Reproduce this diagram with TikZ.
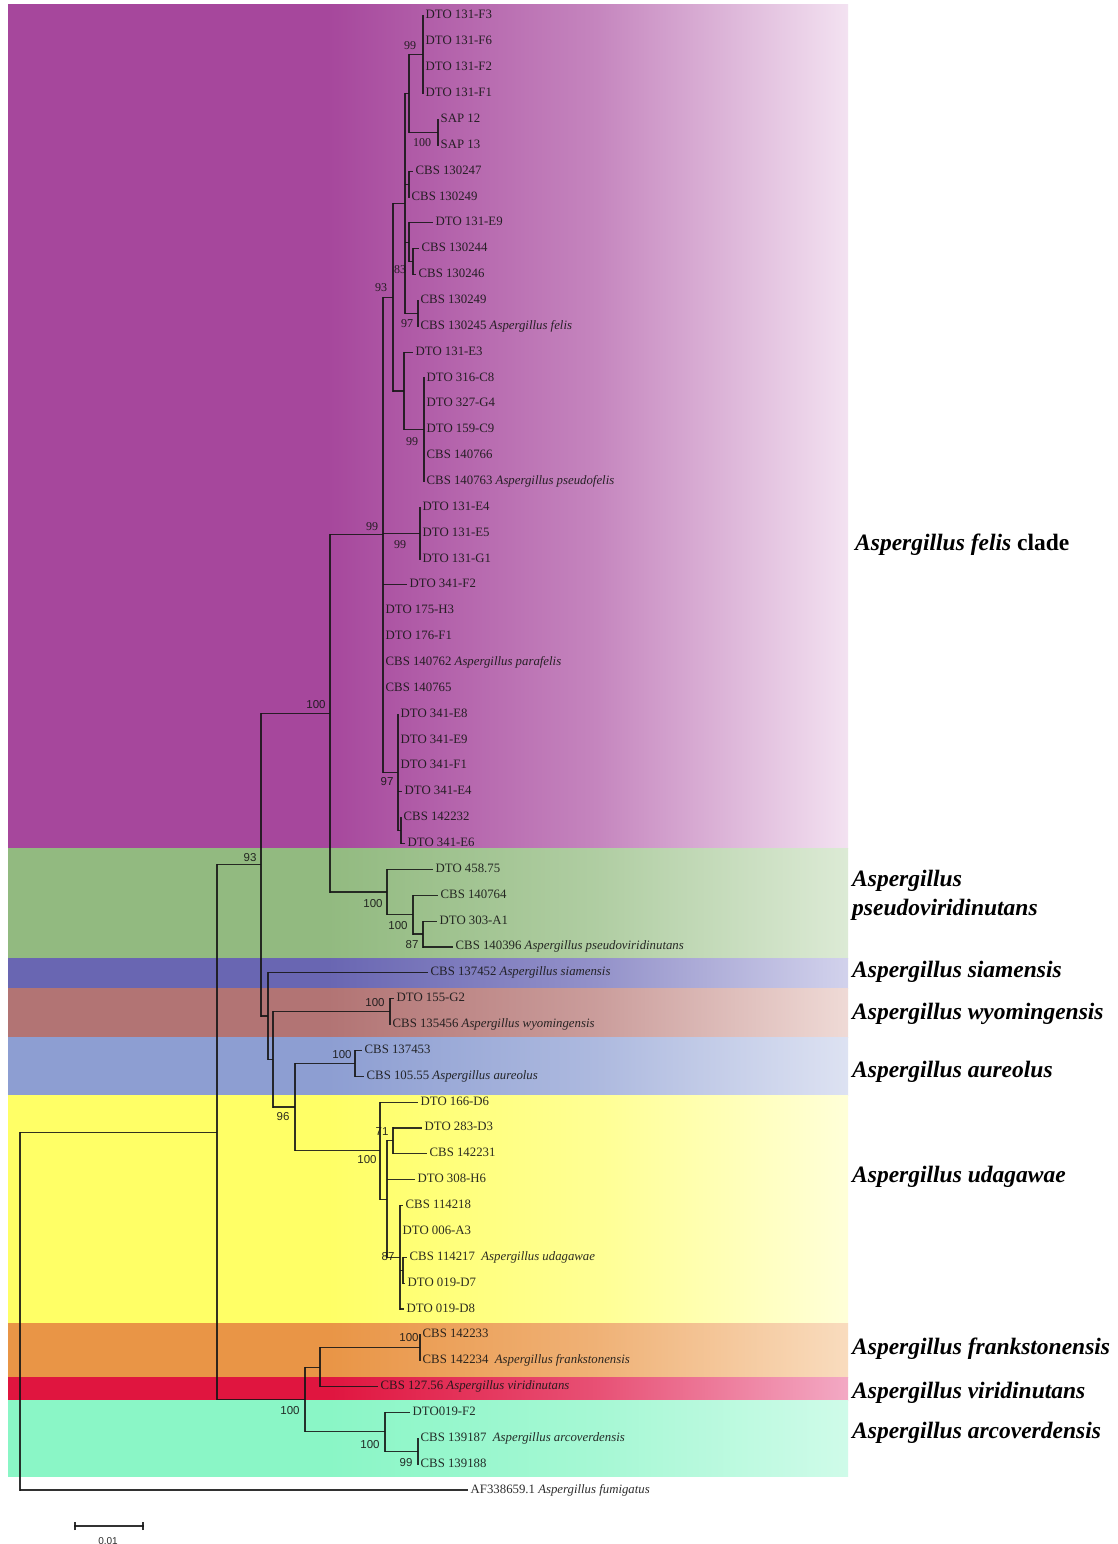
\documentclass[tikz,border=0pt]{standalone}
\usepackage{fontspec}
\setmainfont{Liberation Serif}
\newfontfamily\supsans{Liberation Sans}

% band colours: saturated left edge, pale right edge
\definecolor{felA}{HTML}{A6479C}\definecolor{felB}{HTML}{F3E2F1}
\definecolor{psvA}{HTML}{92BA80}\definecolor{psvB}{HTML}{DCEAD5}
\definecolor{siaA}{HTML}{6966B2}\definecolor{siaB}{HTML}{D2D2EC}
\definecolor{wyoA}{HTML}{B27474}\definecolor{wyoB}{HTML}{EFDAD6}
\definecolor{aurA}{HTML}{8D9ED2}\definecolor{aurB}{HTML}{DDE2F2}
\definecolor{udaA}{HTML}{FFFF66}\definecolor{udaB}{HTML}{FFFFD8}
\definecolor{fraA}{HTML}{E99546}\definecolor{fraB}{HTML}{F9DCBE}
\definecolor{virA}{HTML}{E0153F}\definecolor{virB}{HTML}{F3A9C4}
\definecolor{arcA}{HTML}{8AF6C6}\definecolor{arcB}{HTML}{CFFBE9}
\definecolor{ink}{HTML}{161616}

\tikzset{
  vbranch/.style={draw=ink, draw opacity=0.88, line width=1.1pt, line cap=rect},
  hbranch/.style={draw=ink, draw opacity=0.88, line width=1.1pt, line cap=butt},
  tip/.style={anchor=west, inner xsep=2.5pt, inner ysep=0pt, text=ink, text opacity=0.9,
    text height=8.6pt, text depth=2.6pt, font=\fontsize{12.8}{12.8}\selectfont},
  supS/.style={inner sep=0pt, text=ink, text opacity=0.9, font=\supsans\fontsize{11.5}{11.5}\selectfont},
  supR/.style={inner sep=0pt, text=ink, text opacity=0.9, font=\fontsize{12}{12}\selectfont},
  cladelab/.style={anchor=west, inner sep=0pt, text=black, font=\bfseries\fontsize{23.5}{23.5}\selectfont},
}

% one coloured band: base colour, pale colour, top, bottom.
% The band spans x = 8..848, mapped onto 25bp..75bp of the shading;
% it stays at the base colour up to x = 330 and then fades out.
\newcommand{\cladeband}[4]{%
  \pgfdeclarehorizontalshading{sh#1}{100bp}{color(0bp)=(#1); color(44bp)=(#1);
    color(60bp)=(#2!40!#1); color(75bp)=(#2); color(100bp)=(#2)}%
  \shade[shading=sh#1] (8,#3) rectangle (848,#4);}

% one leaf: name, parent, branch end x, row, text (rows are 25.86 apart)
\newcommand{\leaf}[5]{%
  \node[tip] (#1) at (#3,{16+25.86*#4}) {#5};
  \draw[hbranch] (#2 |- #1.west) -- (#1.west);}

\newcommand{\spn}[1]{\textit{#1}}

\begin{document}
\begin{tikzpicture}[x=1pt, y=-1pt]
\useasboundingbox (0,0) rectangle (1118,1544);
\fill[white] (0,0) rectangle (1118,1544);

% clade bands
\cladeband{felA}{felB}{5}{848}
\cladeband{psvA}{psvB}{848}{958}
\cladeband{siaA}{siaB}{958}{988}
\cladeband{wyoA}{wyoB}{988}{1037}
\cladeband{aurA}{aurB}{1037}{1095}
\cladeband{udaA}{udaB}{1095}{1323}
\cladeband{fraA}{fraB}{1323}{1377}
\cladeband{virA}{virB}{1377}{1400}
\cladeband{arcA}{arcB}{1400}{1476}

% internal nodes
\coordinate (NF) at (423,54.79);
\coordinate (NSAP) at (438,132.37);
\coordinate (NFS) at (409,93.6);
\coordinate (N247) at (409,184.09);
\coordinate (N44) at (413,261.67);
\coordinate (NE9) at (409,242.3);
\coordinate (N97a) at (418,313.39);
\coordinate (N405) at (405,203.5);
\coordinate (N99b) at (424,429.76);
\coordinate (NE3) at (404,391);
\coordinate (N93b) at (393,297.2);
\coordinate (NE4) at (420,533.2);
\coordinate (N42) at (401,830.59);
\coordinate (N97b) at (398,772.4);
\coordinate (F99) at (383,534.8);
\coordinate (NPV3) at (423,934.03);
\coordinate (NPV2) at (413,914.6);
\coordinate (NPV) at (387,892);
\coordinate (N100a) at (330,713.4);
\coordinate (NW) at (390,1011.61);
\coordinate (NA) at (355,1063.33);
\coordinate (N71) at (393,1140.91);
\coordinate (N87s) at (403,1270.21);
\coordinate (N87) at (400,1257.3);
\coordinate (NU2) at (387,1199.1);
\coordinate (NU) at (380,1150.6);
\coordinate (Z) at (295,1107);
\coordinate (Y) at (273,1059.3);
\coordinate (X) at (268,1016);
\coordinate (N93a) at (261,864.7);
\coordinate (NFr) at (420,1347.79);
\coordinate (NFV) at (320,1367.2);
\coordinate (NAr99) at (418,1451.23);
\coordinate (NAr) at (385,1431.8);
\coordinate (NOut) at (305,1399.5);
\coordinate (I) at (217,1132.1);
\coordinate (R) at (20,1311);

% leaves
\leaf{t0}{NF}{423}{0}{DTO 131-F3}
\leaf{t1}{NF}{423}{1}{DTO 131-F6}
\leaf{t2}{NF}{423}{2}{DTO 131-F2}
\leaf{t3}{NF}{423}{3}{DTO 131-F1}
\leaf{t4}{NSAP}{438}{4}{SAP 12}
\leaf{t5}{NSAP}{438}{5}{SAP 13}
\leaf{t6}{N247}{413}{6}{CBS 130247}
\leaf{t7}{N247}{409}{7}{CBS 130249}
\leaf{t8}{NE9}{433}{8}{DTO 131-E9}
\leaf{t9}{N44}{419}{9}{CBS 130244}
\leaf{t10}{N44}{416}{10}{CBS 130246}
\leaf{t11}{N97a}{418}{11}{CBS 130249}
\leaf{t12}{N97a}{418}{12}{CBS 130245 \spn{Aspergillus felis}}
\leaf{t13}{NE3}{413}{13}{DTO 131-E3}
\leaf{t14}{N99b}{424}{14}{DTO 316-C8}
\leaf{t15}{N99b}{424}{15}{DTO 327-G4}
\leaf{t16}{N99b}{424}{16}{DTO 159-C9}
\leaf{t17}{N99b}{424}{17}{CBS 140766}
\leaf{t18}{N99b}{424}{18}{CBS 140763 \spn{Aspergillus pseudofelis}}
\leaf{t19}{NE4}{420}{19}{DTO 131-E4}
\leaf{t20}{NE4}{420}{20}{DTO 131-E5}
\leaf{t21}{NE4}{420}{21}{DTO 131-G1}
\leaf{t22}{F99}{407}{22}{DTO 341-F2}
\leaf{t23}{F99}{383}{23}{DTO 175-H3}
\leaf{t24}{F99}{383}{24}{DTO 176-F1}
\leaf{t25}{F99}{383}{25}{CBS 140762 \spn{Aspergillus parafelis}}
\leaf{t26}{F99}{383}{26}{CBS 140765}
\leaf{t27}{N97b}{398}{27}{DTO 341-E8}
\leaf{t28}{N97b}{398}{28}{DTO 341-E9}
\leaf{t29}{N97b}{398}{29}{DTO 341-F1}
\leaf{t30}{N97b}{402}{30}{DTO 341-E4}
\leaf{t31}{N42}{401}{31}{CBS 142232}
\leaf{t32}{N42}{405}{32}{DTO 341-E6}
\leaf{t33}{NPV}{433}{33}{DTO 458.75}
\leaf{t34}{NPV2}{438}{34}{CBS 140764}
\leaf{t35}{NPV3}{437}{35}{DTO 303-A1}
\leaf{t36}{NPV3}{453}{36}{CBS 140396 \spn{Aspergillus pseudoviridinutans}}
\leaf{t37}{X}{428}{37}{CBS 137452 \spn{Aspergillus siamensis}}
\leaf{t38}{NW}{394}{38}{DTO 155-G2}
\leaf{t39}{NW}{390}{39}{CBS 135456 \spn{Aspergillus wyomingensis}}
\leaf{t40}{NA}{362}{40}{CBS 137453}
\leaf{t41}{NA}{364}{41}{CBS 105.55 \spn{Aspergillus aureolus}}
\leaf{t42}{NU}{418}{42}{DTO 166-D6}
\leaf{t43}{N71}{422}{43}{DTO 283-D3}
\leaf{t44}{N71}{427}{44}{CBS 142231}
\leaf{t45}{NU2}{415}{45}{DTO 308-H6}
\leaf{t46}{N87}{403}{46}{CBS 114218}
\leaf{t47}{N87}{400}{47}{DTO 006-A3}
\leaf{t48}{N87s}{407}{48}{CBS 114217\enspace\spn{Aspergillus udagawae}}
\leaf{t49}{N87s}{405}{49}{DTO 019-D7}
\leaf{t50}{N87}{404}{50}{DTO 019-D8}
\leaf{t51}{NFr}{420}{51}{CBS 142233}
\leaf{t52}{NFr}{420}{52}{CBS 142234\enspace\spn{Aspergillus frankstonensis}}
\leaf{t53}{NFV}{378}{53}{CBS 127.56 \spn{Aspergillus viridinutans}}
\leaf{t54}{NAr}{410}{54}{DTO019-F2}
\leaf{t55}{NAr99}{418}{55}{CBS 139187\enspace\spn{Aspergillus arcoverdensis}}
\leaf{t56}{NAr99}{418}{56}{CBS 139188}
\leaf{t57}{R}{468}{57}{AF338659.1 \spn{Aspergillus fumigatus}}

% stems joining internal nodes to their parents
\foreach \p/\c in {NFS/NF, NFS/NSAP, N405/NFS, N405/N247, NE9/N44, N405/NE9,
    N405/N97a, N93b/N405, NE3/N99b, N93b/NE3, F99/N93b, F99/NE4, N97b/N42,
    F99/N97b, N100a/F99, NPV2/NPV3, NPV/NPV2, N100a/NPV, N93a/N100a, Y/NW,
    Z/NA, NU2/N71, N87/N87s, NU2/N87, NU/NU2, Z/NU, Y/Z, X/Y, N93a/X, I/N93a,
    NFV/NFr, NOut/NFV, NAr/NAr99, NOut/NAr, I/NOut, R/I}
  \draw[hbranch] (\p |- \c) -- (\c);

% vertical bars of the internal nodes: node / first child / last child
\foreach \n/\a/\b in {NF/t0.west/t3.west, NSAP/t4.west/t5.west, NFS/NF/NSAP,
    N247/t6.west/t7.west, N44/t9.west/t10.west, NE9/t8.west/N44,
    N97a/t11.west/t12.west, N405/NFS/N97a, N99b/t14.west/t18.west,
    NE3/t13.west/N99b, N93b/N405/NE3, NE4/t19.west/t21.west,
    N42/t31.west/t32.west, N97b/t27.west/N42, F99/N93b/N97b,
    NPV3/t35.west/t36.west, NPV2/t34.west/NPV3, NPV/t33.west/NPV2,
    N100a/F99/NPV, NW/t38.west/t39.west, NA/t40.west/t41.west,
    N71/t43.west/t44.west, N87s/t48.west/t49.west, N87/t46.west/t50.west,
    NU2/N71/N87, NU/t42.west/NU2, Z/NA/NU, Y/NW/Z, X/t37.west/Y,
    N93a/N100a/X, NFr/t51.west/t52.west, NFV/NFr/t53.west,
    NAr99/t55.west/t56.west, NAr/t54.west/NAr99, NOut/NFV/NAr,
    I/N93a/NOut, R/I/t57.west}
  \draw[vbranch] (\n |- \a) -- (\n |- \b);

% bootstrap support values
\node[supR] (s1) at (410,46) {99};
\node[supR] (s2) at (422,143) {100};
\node[supR] (s3) at (400,270) {83};
\node[supR] (s4) at (381,288) {93};
\node[supR] (s5) at (407,324) {97};
\node[supR] (s6) at (412,442) {99};
\node[supR] (s7) at (372,527) {99};
\node[supR] (s8) at (400,545) {99};
\node[supS] (s9) at (387,782) {97};
\node[supS] (s10) at (316,705) {100};
\node[supS] (s11) at (250,858) {93};
\node[supS] (s12) at (373,904) {100};
\node[supS] (s13) at (398,926) {100};
\node[supS] (s14) at (412,945) {87};
\node[supS] (s15) at (375,1003) {100};
\node[supS] (s16) at (342,1055) {100};
\node[supS] (s17) at (283,1117) {96};
\node[supS] (s18) at (382,1132) {71};
\node[supS] (s19) at (367,1160) {100};
\node[supS] (s20) at (388,1257) {87};
\node[supS] (s21) at (409,1338) {100};
\node[supS] (s22) at (290,1411) {100};
\node[supS] (s23) at (370,1445) {100};
\node[supS] (s24) at (406,1463) {99};

% clade names
\node[cladelab] (c1) at (855,545) {\spn{Aspergillus felis} clade};
\node[cladelab] (c2) at (852,881) {\spn{Aspergillus}};
\node[cladelab] (c2b) at (852,910) {\spn{pseudoviridinutans}};
\node[cladelab] (c3) at (852,972) {\spn{Aspergillus siamensis}};
\node[cladelab] (c4) at (852,1014) {\spn{Aspergillus wyomingensis}};
\node[cladelab] (c5) at (852,1072) {\spn{Aspergillus aureolus}};
\node[cladelab] (c6) at (852,1177) {\spn{Aspergillus udagawae}};
\node[cladelab] (c7) at (852,1349) {\spn{Aspergillus frankstonensis}};
\node[cladelab] (c8) at (852,1393) {\spn{Aspergillus viridinutans}};
\node[cladelab] (c9) at (852,1433) {\spn{Aspergillus arcoverdensis}};

% scale bar
\coordinate (sb0) at (75,1526);
\coordinate (sb1) at (143,1526);
\draw[vbranch, line width=1.4pt] (sb0) -- (sb1);
\draw[hbranch, line width=1.2pt] ([yshift=-4pt]sb0) -- ([yshift=4pt]sb0);
\draw[hbranch, line width=1.2pt] ([yshift=-4pt]sb1) -- ([yshift=4pt]sb1);
\node[supS, font=\supsans\fontsize{10}{10}\selectfont] (sbl) at (108,1541) {0.01};
\end{tikzpicture}
\end{document}
